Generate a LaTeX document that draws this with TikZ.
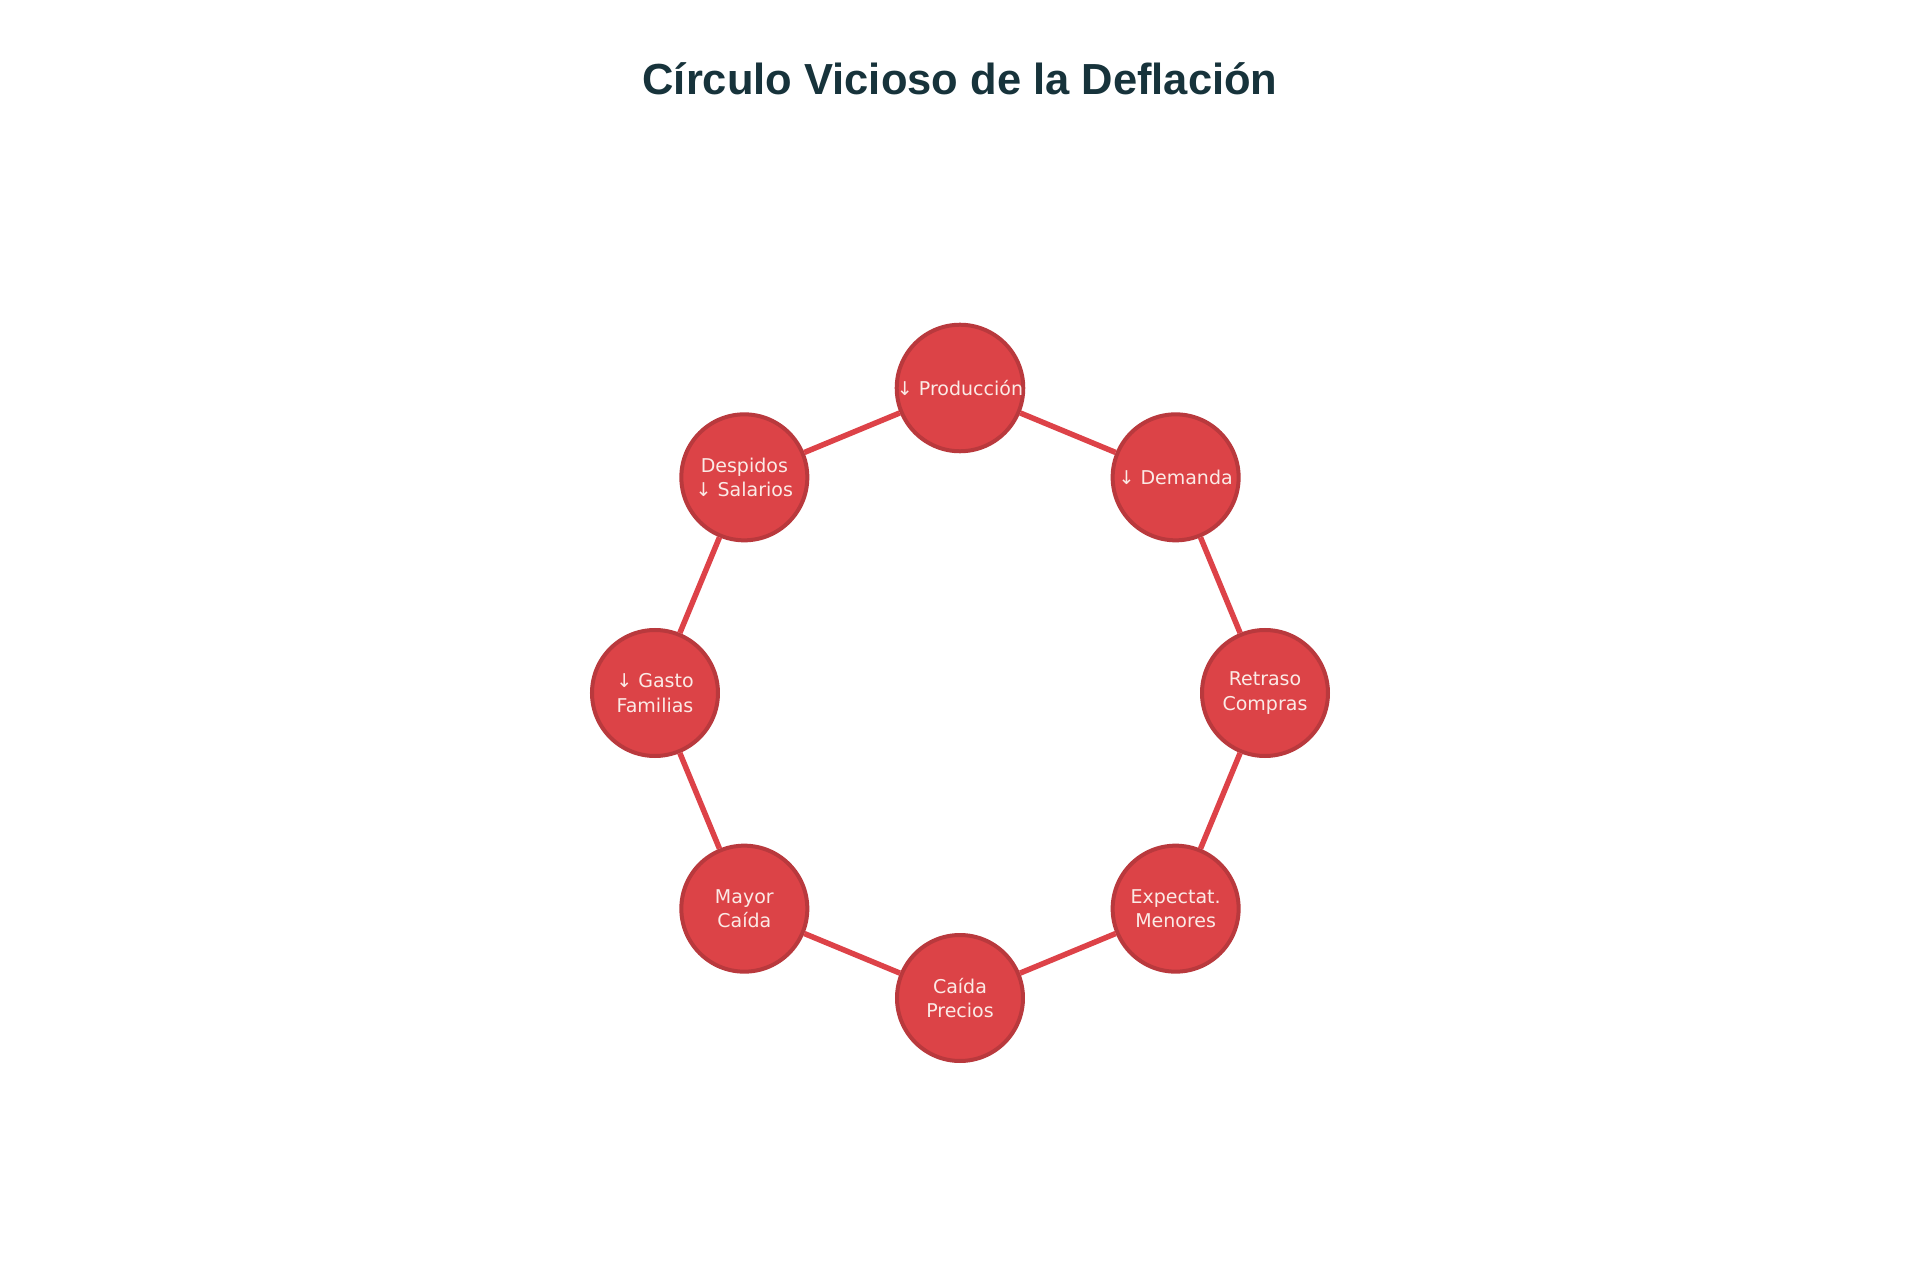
\documentclass[tikz,border=0pt]{standalone}
\usepackage{fontspec}
\setmainfont{DejaVu Sans}
\newfontfamily\titlefont{Liberation Sans}
\usepackage{tikz}

\definecolor{stagefill}{HTML}{DC4347}
\definecolor{stageborder}{HTML}{B9393D}
\definecolor{stagetext}{HTML}{FBEAE6}
\definecolor{linkred}{HTML}{DD4248}
\definecolor{titleteal}{HTML}{17333B}

\begin{document}
\begin{tikzpicture}[
    x=1pt, y=1pt,
    stage/.style={draw=stageborder, circle, line width=4pt, fill=stagefill, minimum size=126pt, inner sep=0pt, align=center, text=stagetext, font=\fontsize{19}{24.5}\selectfont},
    link/.style={draw=linkred, line width=5.5pt},
    title/.style={font=\titlefont\bfseries\fontsize{43.5}{52}\selectfont, text=titleteal} %header
]
\useasboundingbox (-960,-587) rectangle (960,693);

\node[title, anchor=base] (title) at (0,598) {Círculo Vicioso de la Deflación};

\node[stage] (prod) at (90:305pt) {↓ Producción};
\node[stage] (dem) at (45:305pt) {↓ Demanda};
\node[stage] (retraso) at (0:305pt) {Retraso\\Compras};
\node[stage] (expect) at (-45:305pt) {Expectat.\\Menores};
\node[stage] (precios) at (-90:305pt) {Caída\\Precios};
\node[stage] (mayor) at (-135:305pt) {Mayor\\Caída};
\node[stage] (gasto) at (180:305pt) {↓ Gasto\\Familias};
\node[stage] (despidos) at (135:305pt) {Despidos\\↓ Salarios};

\foreach \from/\to in {prod/dem, dem/retraso, retraso/expect, expect/precios, precios/mayor, mayor/gasto, gasto/despidos, despidos/prod}
    \draw[link] (\from) -- (\to);

\end{tikzpicture}
\end{document}
